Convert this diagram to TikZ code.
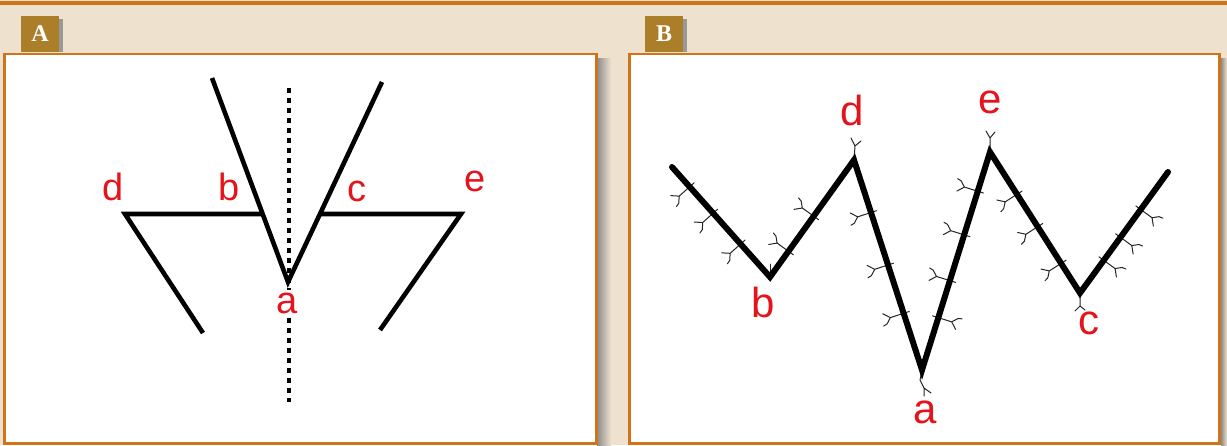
\documentclass[tikz,border=0pt]{standalone}
\usepackage{fontspec}
\newfontfamily\labfont{Liberation Sans}
\newfontfamily\tabfont{Liberation Serif}
\usetikzlibrary{calc,decorations.markings}
\definecolor{bg}{HTML}{EEE2CF}
\definecolor{framec}{HTML}{CF7419}
\definecolor{tabc}{HTML}{AB7F2A}
\definecolor{lblc}{HTML}{E5131B}
\newcommand\twg[1]{\draw[twigline] (0,{-6*#1}) -- (0,{14*#1}) -- ++(-6,{6*#1}) (0,{14*#1}) -- ++(5,{5*#1}) -- ++(1,{4*#1});}
\begin{document}
\begin{tikzpicture}[x=1pt,y=-1pt,
  panel/.style={fill=white,draw=framec,line width=2.8pt},
  tabbox/.style={fill=tabc,minimum width=38pt,minimum height=36pt,inner sep=0pt,text=white,font=\tabfont\bfseries\fontsize{24}{24}\selectfont},
  ltr/.style={text=lblc,inner sep=0pt,font=\labfont\fontsize{38}{38}\selectfont},
  ltrb/.style={text=lblc,inner sep=0pt,font=\labfont\fontsize{42}{42}\selectfont},
  stick/.style={line width=4.6pt,line cap=butt,line join=miter},
  zig/.style={line width=6pt,line cap=round,line join=miter},
  dotline/.style={line width=4pt,dash pattern=on 5pt off 5pt},
  twigline/.style={line width=1pt,black!85,line cap=round,line join=round}]
\useasboundingbox (0,0) rectangle (1227,445);
\fill[bg] (0,0) rectangle (1227,445);
\fill[framec] (0,0.5) rectangle (1227,4.5);
% shadows
\shade[left color=black!45,right color=bg] (597,58) rectangle (611,445);
\shade[left color=black!45,right color=bg] (1221,58) rectangle (1227,445);
\fill[black!40] (59,19) rectangle (62.5,52);
\fill[black!40] (683,19) rectangle (686.5,52);
% panels
\draw[panel] (4.4,53.9) rectangle (596.6,443.6);
\draw[panel] (629.4,53.9) rectangle (1219.6,443.6);
\node[tabbox] (tabA) at (40,34) {A};
\node[tabbox] (tabB) at (664,34) {B};
% ---------- panel A ----------
\coordinate (Atop) at (289,88);
\coordinate (Abot) at (289,402);
\draw[dotline] (Atop) -- (Abot);
\coordinate (LT) at (212,78);
\coordinate (AV) at (288,282);
\coordinate (RT) at (382,82);
\coordinate (AB) at (263,214);
\coordinate (AD) at (125,214);
\coordinate (ADf) at (203,333);
\coordinate (AC) at (320,214);
\coordinate (AE) at (461,214);
\coordinate (AEf) at (380,330);
\draw[stick] (LT) -- (AV) -- (RT);
\draw[stick] (ADf) -- (AD) -- (AB);
\draw[stick] (AEf) -- (AE) -- (AC);
\node[ltr,fill=white,inner ysep=3pt] (la) at (287,303) {a};
\node[ltr] (lb) at (229,187) {b};
\node[ltr] (lc) at (357,191) {c};
\node[ltr] (ld) at (113,187) {d};
\node[ltr] (le) at (475,181) {e};
% ---------- panel B ----------
\coordinate (s) at (672,167);
\coordinate (b) at (770,277);
\coordinate (d) at (854,160);
\coordinate (a) at (922,370);
\coordinate (e) at (990,152);
\coordinate (c) at (1080,293);
\coordinate (t) at (1168,172);
\path[decorate,decoration={markings,
  mark=at position .18 with {\twg{1}},
  mark=at position .42 with {\twg{1}},
  mark=at position .70 with {\twg{1}}}] (s) -- (b);
\path[decorate,decoration={markings,
  mark=at position .22 with {\twg{-1}},
  mark=at position .52 with {\twg{-1}}}] (b) -- (d);
\path[decorate,decoration={markings,
  mark=at position .25 with {\twg{1}},
  mark=at position .50 with {\twg{1}},
  mark=at position .73 with {\twg{1}}}] (d) -- (a);
\path[decorate,decoration={markings,
  mark=at position .24 with {\twg{1}},
  mark=at position .41 with {\twg{-1}},
  mark=at position .62 with {\twg{-1}},
  mark=at position .82 with {\twg{-1}}}] (a) -- (e);
\path[decorate,decoration={markings,
  mark=at position .30 with {\twg{1}},
  mark=at position .53 with {\twg{1}},
  mark=at position .79 with {\twg{1}}}] (e) -- (c);
\path[decorate,decoration={markings,
  mark=at position .27 with {\twg{1}},
  mark=at position .46 with {\twg{1}},
  mark=at position .69 with {\twg{1}}}] (c) -- (t);
% vertex twigs
\draw[twigline] (d) -- ++(1,-14) -- ++(-4,-8) ++(4,8) -- ++(6,-5);
\draw[twigline] (e) -- ++(0,-14) -- ++(-4,-7) ++(4,7) -- ++(5,-6);
\draw[twigline] (b) -- ++(0,-13);
\draw[twigline] (c) -- ++(0,13) -- ++(-5,5) ++(5,-5) -- ++(5,4);
\draw[twigline] (a) -- ++(-2,10) -- ++(4,8) -- ++(7,5) ++(-7,-5) -- ++(0,8);
\draw[zig] (s) -- (b) -- (d) -- (a) -- (e) -- (c) -- (t);
\node[ltrb] (nb) at (763,302) {b};
\node[ltrb] (nd) at (852,110) {d};
\node[ltrb] (na) at (925,412) {a};
\node[ltrb] (ne) at (990,102) {e};
\node[ltrb] (nc) at (1089,323) {c};
\end{tikzpicture}
\end{document}
